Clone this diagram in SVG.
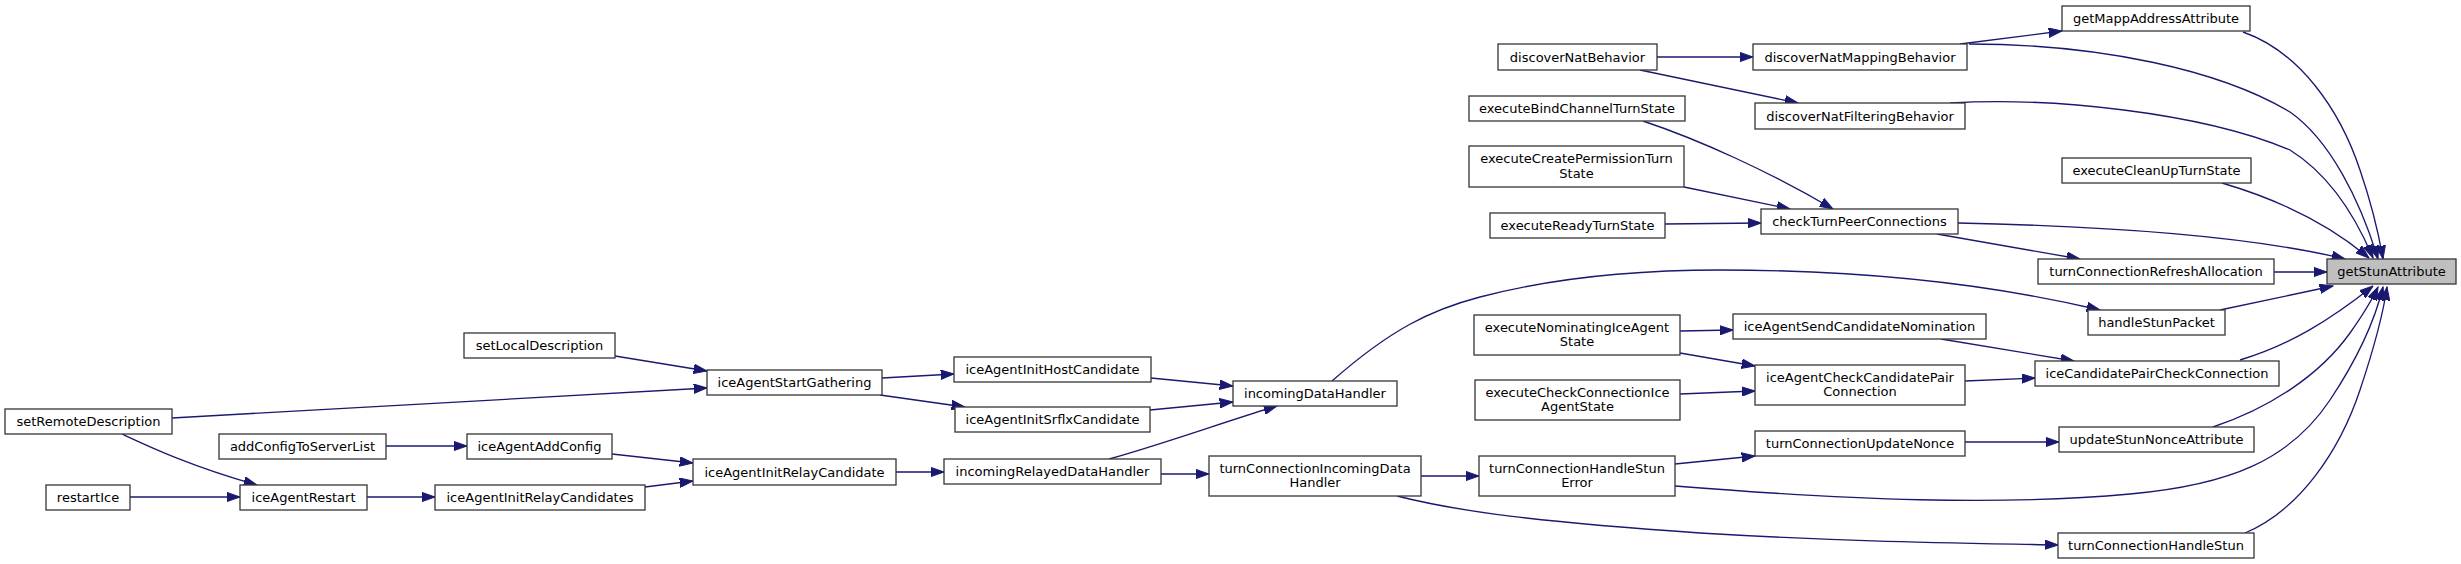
<svg xmlns="http://www.w3.org/2000/svg" width="2461" height="564" viewBox="0 0 2461 564">
<style>
.n rect{fill:#ffffff;stroke:#3a3a3a;stroke-width:1.33}
.root rect{fill:#bfbfbf}
.n text{font-family:"DejaVu Sans","Liberation Sans",sans-serif;font-size:13px;fill:#000;text-anchor:middle}
.e path{fill:none;stroke:#191970;stroke-width:1.33;marker-end:url(#a)}
</style>
<defs>
<marker id="a" markerUnits="userSpaceOnUse" markerWidth="14" markerHeight="10" viewBox="0 0 14 10" refX="13.3" refY="5" orient="auto"><path d="M0,0.3 L13.3,5 L0,9.7 z" fill="#191970" stroke="#191970" stroke-width="1"/></marker>
</defs>
<rect width="2461" height="564" fill="#ffffff"/>
<g id="edges" class="e">
<path d="M615,356 L707,371"/>
<path d="M172,418 L707,388"/>
<path d="M122,434 C150,447 190,466 257,485"/>
<path d="M130,497 L240,497"/>
<path d="M367,497 L435,497"/>
<path d="M386,446 L467,446"/>
<path d="M612,454 L693,463"/>
<path d="M645,487 L693,481"/>
<path d="M882,378 L954,374"/>
<path d="M880,395 L965,407"/>
<path d="M896,472 L944,472"/>
<path d="M1151,378 L1233,386"/>
<path d="M1150,410 L1233,402"/>
<path d="M1109,459 C1160,445 1230,420 1277,406"/>
<path d="M1161,474 L1209,474"/>
<path d="M1332,381 C1390,330 1430,310 1480,297 C1560,276 1650,270 1720,270 C1860,270 1990,284 2100,310"/>
<path d="M1397,496 C1460,512 1540,522 1700,533 C1850,542 1960,543 2058,545"/>
<path d="M1421,476 L1479,476"/>
<path d="M1675,464 L1755,456"/>
<path d="M1675,486 C1850,500 2000,506 2130,494 C2230,485 2290,460 2330,400 C2360,355 2375,320 2383,287"/>
<path d="M2245,533 C2300,510 2340,450 2360,390 C2375,345 2383,315 2387,287"/>
<path d="M1965,442 L2059,442"/>
<path d="M2213,427 C2270,408 2320,375 2350,333 C2362,316 2372,300 2378,287"/>
<path d="M1965,381 L2035,378"/>
<path d="M1941,339 L2074,361"/>
<path d="M1680,331 L1733,330"/>
<path d="M1680,353 L1755,366"/>
<path d="M1680,394 L1755,391"/>
<path d="M2240,360 C2290,345 2330,320 2373,286"/>
<path d="M2220,310 L2333,286"/>
<path d="M2274,272 L2327,272"/>
<path d="M1937,234 L2080,259"/>
<path d="M1958,223 C2100,226 2250,236 2345,259"/>
<path d="M2222,183 C2280,200 2330,225 2369,258"/>
<path d="M2243,32 C2300,52 2340,110 2360,170 C2372,205 2378,230 2383,259"/>
<path d="M1969,44 C2100,44 2220,70 2290,112 C2330,140 2360,200 2378,259"/>
<path d="M1950,103 C2050,97 2200,112 2290,150 C2330,175 2355,215 2373,258"/>
<path d="M1960,44 L2062,31"/>
<path d="M1657,57 L1753,57"/>
<path d="M1640,70 L1798,103"/>
<path d="M1643,121 C1700,140 1770,172 1833,209"/>
<path d="M1684,187 L1790,209"/>
<path d="M1665,224 L1761,223"/>
</g>
<g id="setRemoteDescription" class="n"><rect x="5" y="409" width="167" height="25"/><text x="88.5" y="426">setRemoteDescription</text></g>
<g id="restartIce" class="n"><rect x="46" y="485" width="84" height="25"/><text x="88" y="502">restartIce</text></g>
<g id="addConfigToServerList" class="n"><rect x="219" y="434" width="167" height="25"/><text x="302.5" y="451">addConfigToServerList</text></g>
<g id="iceAgentRestart" class="n"><rect x="240" y="485" width="127" height="25"/><text x="303.5" y="502">iceAgentRestart</text></g>
<g id="setLocalDescription" class="n"><rect x="464" y="333" width="151" height="25"/><text x="539.5" y="350">setLocalDescription</text></g>
<g id="iceAgentAddConfig" class="n"><rect x="467" y="434" width="145" height="25"/><text x="539.5" y="451">iceAgentAddConfig</text></g>
<g id="iceAgentInitRelayCandidates" class="n"><rect x="435" y="485" width="210" height="25"/><text x="540" y="502">iceAgentInitRelayCandidates</text></g>
<g id="iceAgentStartGathering" class="n"><rect x="707" y="370" width="175" height="25"/><text x="794.5" y="387">iceAgentStartGathering</text></g>
<g id="iceAgentInitRelayCandidate" class="n"><rect x="693" y="459" width="203" height="26"/><text x="794.5" y="476.5">iceAgentInitRelayCandidate</text></g>
<g id="iceAgentInitHostCandidate" class="n"><rect x="954" y="357" width="197" height="25"/><text x="1052.5" y="374">iceAgentInitHostCandidate</text></g>
<g id="iceAgentInitSrflxCandidate" class="n"><rect x="955" y="407" width="195" height="25"/><text x="1052.5" y="424">iceAgentInitSrflxCandidate</text></g>
<g id="incomingRelayedDataHandler" class="n"><rect x="944" y="459" width="217" height="25"/><text x="1052.5" y="476">incomingRelayedDataHandler</text></g>
<g id="incomingDataHandler" class="n"><rect x="1233" y="381" width="164" height="25"/><text x="1315" y="398">incomingDataHandler</text></g>
<g id="turnConnectionIncomingDataHandler" class="n"><rect x="1209" y="456" width="212" height="40"/><text x="1315" y="472.7">turnConnectionIncomingData</text><text x="1315" y="487.1">Handler</text></g>
<g id="discoverNatBehavior" class="n"><rect x="1498" y="44" width="159" height="26"/><text x="1577.5" y="61.5">discoverNatBehavior</text></g>
<g id="executeBindChannelTurnState" class="n"><rect x="1469" y="96" width="216" height="25"/><text x="1577" y="113">executeBindChannelTurnState</text></g>
<g id="executeCreatePermissionTurnState" class="n"><rect x="1469" y="146" width="215" height="41"/><text x="1576.5" y="163.2">executeCreatePermissionTurn</text><text x="1576.5" y="177.6">State</text></g>
<g id="executeReadyTurnState" class="n"><rect x="1490" y="213" width="175" height="25"/><text x="1577.5" y="230">executeReadyTurnState</text></g>
<g id="executeNominatingIceAgentState" class="n"><rect x="1474" y="315" width="206" height="40"/><text x="1577" y="331.7">executeNominatingIceAgent</text><text x="1577" y="346.1">State</text></g>
<g id="executeCheckConnectionIceAgentState" class="n"><rect x="1475" y="380" width="205" height="40"/><text x="1577.5" y="396.7">executeCheckConnectionIce</text><text x="1577.5" y="411.1">AgentState</text></g>
<g id="turnConnectionHandleStunError" class="n"><rect x="1479" y="456" width="196" height="40"/><text x="1577" y="472.7">turnConnectionHandleStun</text><text x="1577" y="487.1">Error</text></g>
<g id="discoverNatMappingBehavior" class="n"><rect x="1753" y="44" width="214" height="26"/><text x="1860" y="61.5">discoverNatMappingBehavior</text></g>
<g id="discoverNatFilteringBehavior" class="n"><rect x="1755" y="103" width="210" height="26"/><text x="1860" y="120.5">discoverNatFilteringBehavior</text></g>
<g id="checkTurnPeerConnections" class="n"><rect x="1761" y="209" width="197" height="25"/><text x="1859.5" y="226">checkTurnPeerConnections</text></g>
<g id="iceAgentSendCandidateNomination" class="n"><rect x="1733" y="314" width="253" height="25"/><text x="1859.5" y="331">iceAgentSendCandidateNomination</text></g>
<g id="iceAgentCheckCandidatePairConnection" class="n"><rect x="1755" y="365" width="210" height="40"/><text x="1860" y="381.7">iceAgentCheckCandidatePair</text><text x="1860" y="396.1">Connection</text></g>
<g id="turnConnectionUpdateNonce" class="n"><rect x="1755" y="431" width="210" height="25"/><text x="1860" y="448">turnConnectionUpdateNonce</text></g>
<g id="getMappAddressAttribute" class="n"><rect x="2062" y="6" width="188" height="25"/><text x="2156" y="23">getMappAddressAttribute</text></g>
<g id="executeCleanUpTurnState" class="n"><rect x="2062" y="158" width="189" height="25"/><text x="2156.5" y="175">executeCleanUpTurnState</text></g>
<g id="turnConnectionRefreshAllocation" class="n"><rect x="2038" y="259" width="236" height="25"/><text x="2156" y="276">turnConnectionRefreshAllocation</text></g>
<g id="handleStunPacket" class="n"><rect x="2088" y="310" width="137" height="25"/><text x="2156.5" y="327">handleStunPacket</text></g>
<g id="iceCandidatePairCheckConnection" class="n"><rect x="2035" y="361" width="244" height="25"/><text x="2157" y="378">iceCandidatePairCheckConnection</text></g>
<g id="updateStunNonceAttribute" class="n"><rect x="2059" y="427" width="195" height="25"/><text x="2156.5" y="444">updateStunNonceAttribute</text></g>
<g id="turnConnectionHandleStun" class="n"><rect x="2058" y="533" width="196" height="25"/><text x="2156" y="550">turnConnectionHandleStun</text></g>
<g id="getStunAttribute" class="n root"><rect x="2327" y="259" width="129" height="25"/><text x="2391.5" y="276">getStunAttribute</text></g>
</svg>
